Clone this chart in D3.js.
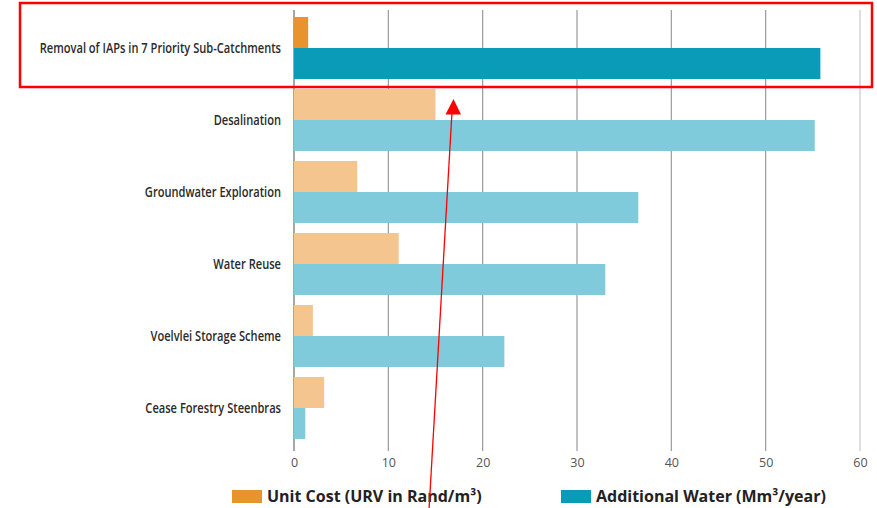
<!DOCTYPE html>
<html>
<head>
<meta charset="utf-8">
<script src="https://cdn.jsdelivr.net/npm/d3@7"></script>
<style>
  html, body { margin: 0; padding: 0; background: #fff; }
  svg { display: block; }
  .cat { font-family: "Open Sans", sans-serif; font-weight: 600; font-size: 15px; fill: #2a2a2a; }
  .tick-label { font-family: "Open Sans", sans-serif; font-size: 12.5px; fill: #555; }
  .legend-text { font-family: "Open Sans", sans-serif; font-weight: 700; font-size: 16px; fill: #222; }
</style>
</head>
<body>
<svg id="chart" width="877" height="508"></svg>
<script>
// Options, top to bottom
const categories = [
  "Removal of IAPs in 7 Priority Sub-Catchments",
  "Desalination",
  "Groundwater Exploration",
  "Water Reuse",
  "Voelvlei Storage Scheme",
  "Cease Forestry Steenbras"
];
// Unit reference value, Rand per m³
const unitCost = [1.5, 15.0, 6.7, 11.1, 2.0, 3.2];
// Additional yield, million m³ per year
const additionalWater = [55.8, 55.2, 36.5, 33.0, 22.3, 1.2];
const xTicks = [0, 10, 20, 30, 40, 50, 60];
const legendLabels = ["Unit Cost (URV in Rand/m\u00B3)", "Additional Water (Mm\u00B3/year)"];

const colors = {
  costHi: "#E9932D", waterHi: "#0A9BB8",
  costLo: "#F4C58F", waterLo: "#7FCADB"
};

const svg = d3.select("#chart");

const x = d3.scaleLinear().domain([0, 60]).range([294, 860]);
const y = d3.scaleBand().domain(categories).range([17, 439]).paddingInner(0.139).paddingOuter(0);

// vertical gridlines
svg.append("g").selectAll("line").data(xTicks).join("line")
  .attr("x1", d => x(d)).attr("x2", d => x(d))
  .attr("y1", 10).attr("y2", 451)
  .attr("stroke", d => d === 0 ? "#8a8a8a" : (d === 60 ? "#c8c8c8" : "#9a9a9a"))
  .attr("stroke-width", d => d === 0 ? 1.5 : 1.2);

// tick labels
const axis = d3.axisBottom(x).tickValues(xTicks).tickSize(0).tickPadding(0);
const axisG = svg.append("g").attr("transform", "translate(0,456)").call(axis);
axisG.select(".domain").remove();
axisG.selectAll("text").attr("class", "tick-label").attr("dy", "0.9em").attr("font-family", null).attr("font-size", null).attr("fill", null);

const half = y.bandwidth() / 2;

// unit cost bars (upper half of each band)
svg.append("g").selectAll("rect").data(categories).join("rect")
  .attr("x", x(0))
  .attr("y", d => y(d))
  .attr("width", (d, i) => x(unitCost[i]) - x(0))
  .attr("height", half)
  .attr("fill", (d, i) => i === 0 ? colors.costHi : colors.costLo);

// additional water bars (lower half)
svg.append("g").selectAll("rect").data(categories).join("rect")
  .attr("x", x(0))
  .attr("y", d => y(d) + half)
  .attr("width", (d, i) => x(additionalWater[i]) - x(0))
  .attr("height", half)
  .attr("fill", (d, i) => i === 0 ? colors.waterHi : colors.waterLo);

// category labels, horizontally condensed
const labelScale = 0.74;
svg.append("g").selectAll("text").data(categories).join("text")
  .attr("class", "cat")
  .attr("transform", d => `translate(281,${y(d) + half}) scale(${labelScale},1)`)
  .attr("dy", "0.35em")
  .attr("text-anchor", "end")
  .text(d => d);

// legend
const legend = svg.append("g");
const legendItems = [
  { label: legendLabels[0], color: colors.costHi, x: 232 },
  { label: legendLabels[1], color: colors.waterHi, x: 561 }
];
legendItems.forEach(item => {
  legend.append("rect").attr("x", item.x).attr("y", 490).attr("width", 30).attr("height", 13).attr("fill", item.color);
  legend.append("text").attr("class", "legend-text").attr("x", item.x + 35).attr("y", 502).text(item.label);
});

// highlight box around the first option
svg.append("rect")
  .attr("x", 20).attr("y", 3).attr("width", 852).attr("height", 84)
  .attr("fill", "none").attr("stroke", "#ff0000").attr("stroke-width", 2.5);

// pointer arrow
svg.append("line")
  .attr("x1", 429).attr("y1", 510).attr("x2", 452).attr("y2", 112)
  .attr("stroke", "#ff0000").attr("stroke-width", 1.3);
svg.append("path")
  .attr("d", "M453.5,99 L445.5,114.5 L461,114.5 Z")
  .attr("fill", "#ff0000");
</script>
</body>
</html>
